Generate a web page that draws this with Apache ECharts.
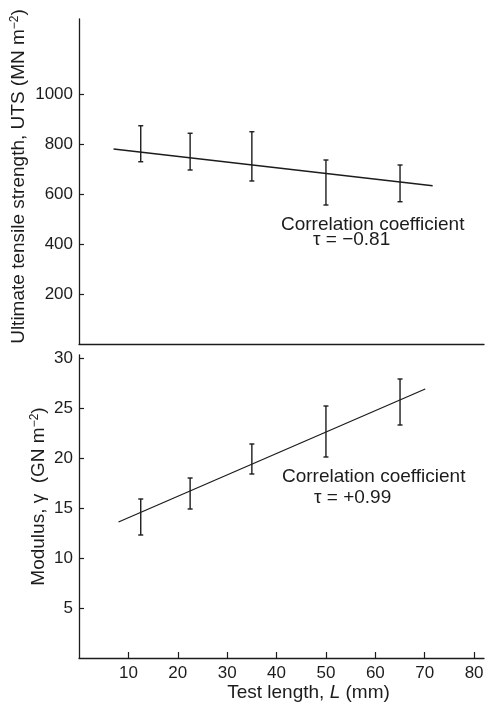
<!DOCTYPE html>
<html><head><meta charset="utf-8">
<script src="https://cdn.jsdelivr.net/npm/echarts@6/dist/echarts.min.js"></script>
<style>html,body{margin:0;padding:0;background:#fff}#c{width:495px;height:709px}</style>
</head><body><div id="c"></div>
<script>
// ---- data ----
const testLength = [12.5, 22.5, 35, 50, 65];          // mm
const utsHigh = [873, 843, 849, 736, 716];             // MN m^-2
const utsLow  = [729, 696, 652, 556, 569];
const modHigh = [15.9, 18.0, 21.4, 25.2, 27.9];        // GN m^-2
const modLow  = [12.3, 14.9, 18.4, 20.1, 23.3];
const utsFitX = [7, 71.6];
const utsFitY = [780, 633];
const modFitX = [8, 70.1];
const modFitY = [13.6, 26.9];
const xTicks   = [10, 20, 30, 40, 50, 60, 70, 80];
const utsTicks = [200, 400, 600, 800, 1000];
const modTicks = [5, 10, 15, 20, 25, 30];
const utsNote = ['Correlation coefficient', 'τ = −0.81'];
const modNote = ['Correlation coefficient', 'τ = +0.99'];

const FONT = 'Liberation Sans';
const ink = '#1c1c1c';

function errBars(lo, hi, idx) {
  return {
    type: 'custom', xAxisIndex: idx, yAxisIndex: idx, silent: true,
    data: testLength.map((x, i) => [x, lo[i], hi[i]]),
    renderItem: (params, api) => {
      const a = api.coord([api.value(0), api.value(1)]);
      const b = api.coord([api.value(0), api.value(2)]);
      const w = 2.5, st = {stroke: ink, lineWidth: 1.4};
      return {type: 'group', children: [
        {type: 'line', shape: {x1: a[0], y1: a[1], x2: b[0], y2: b[1]}, style: st},
        {type: 'line', shape: {x1: a[0]-w, y1: a[1], x2: a[0]+w, y2: a[1]}, style: st},
        {type: 'line', shape: {x1: b[0]-w, y1: b[1], x2: b[0]+w, y2: b[1]}, style: st}
      ]};
    }
  };
}
function fitLine(xs, ys, idx) {
  return {type: 'line', xAxisIndex: idx, yAxisIndex: idx, silent: true, symbol: 'none',
    data: xs.map((x, i) => [x, ys[i]]), lineStyle: {color: ink, width: 1.3}};
}
const axisLine = {show: true, lineStyle: {color: ink, width: 1.3}};
const tickLbl = {color: ink, fontFamily: FONT, fontSize: 17, formatter: v => String(v)};
const nameRich = {
  a: {fontFamily: FONT, fontSize: 19, color: ink},
  i: {fontFamily: FONT, fontSize: 19, color: ink, fontStyle: 'italic'},
  sup: {fontFamily: FONT, fontSize: 12, color: ink, verticalAlign: 'top', padding: [0, 0, 8, 0]}
};

const chart = echarts.init(document.getElementById('c'), null, {renderer: 'canvas'});
chart.setOption({
  animation: false,
  backgroundColor: '#fff',
  grid: [
    {left: 79, top: 19, width: 405, height: 325, outerBoundsMode: 'none', containLabel: false},
    {left: 79, top: 355, width: 405, height: 303, outerBoundsMode: 'none', containLabel: false}
  ],
  xAxis: [
    {gridIndex: 0, type: 'value', min: 0, max: 82, axisLine: axisLine,
     axisTick: {show: false}, axisLabel: {show: false}, splitLine: {show: false}},
    {gridIndex: 1, type: 'value', min: 0, max: 82, axisLine: axisLine,
     axisTick: {show: true, inside: true, length: 6, lineStyle: {color: ink, width: 1.2}, customValues: xTicks},
     axisLabel: Object.assign({margin: 7, customValues: xTicks}, tickLbl),
     splitLine: {show: false},
     name: '{a|Test length, }{i|L}{a| (mm)}', nameLocation: 'middle', nameGap: 24,
     nameTextStyle: {rich: nameRich, padding: [0, 0, 0, 54]}}
  ],
  yAxis: [
    {gridIndex: 0, type: 'value', min: 0, max: 1300, axisLine: axisLine,
     axisTick: {show: true, inside: true, length: 5, lineStyle: {color: ink, width: 1.2}, customValues: utsTicks},
     axisLabel: Object.assign({margin: 6, customValues: utsTicks}, tickLbl),
     splitLine: {show: false},
     name: '{a|Ultimate tensile strength, UTS (MN m}{sup|−2}{a|)}', nameLocation: 'middle', nameGap: 50,
     nameMoveOverlap: false,
     nameTextStyle: {rich: nameRich, padding: [0, 0, 0, 10]}},
    {gridIndex: 1, type: 'value', min: 0, max: 30.3, axisLine: axisLine,
     axisTick: {show: true, inside: true, length: 5, lineStyle: {color: ink, width: 1.2}, customValues: modTicks},
     axisLabel: Object.assign({margin: 6, customValues: modTicks}, tickLbl),
     splitLine: {show: false},
     name: '{a|Modulus, γ  (GN m}{sup|−2}{a|)}', nameLocation: 'middle', nameGap: 30,
     nameMoveOverlap: false,
     nameTextStyle: {rich: nameRich, padding: [0, 0, 0, 20]}}
  ],
  series: [
    errBars(utsLow, utsHigh, 0),
    fitLine(utsFitX, utsFitY, 0),
    errBars(modLow, modHigh, 1),
    fitLine(modFitX, modFitY, 1)
  ],
  graphic: [
    {type: 'text', left: 281, top: 215, style: {text: utsNote[0], font: '19px "' + FONT + '"', fill: ink}},
    {type: 'text', left: 313, top: 230, style: {text: utsNote[1], font: '19px "' + FONT + '"', fill: ink}},
    {type: 'text', left: 282, top: 467, style: {text: modNote[0], font: '19px "' + FONT + '"', fill: ink}},
    {type: 'text', left: 314, top: 488, style: {text: modNote[1], font: '19px "' + FONT + '"', fill: ink}}
  ]
});
</script>
</body></html>
